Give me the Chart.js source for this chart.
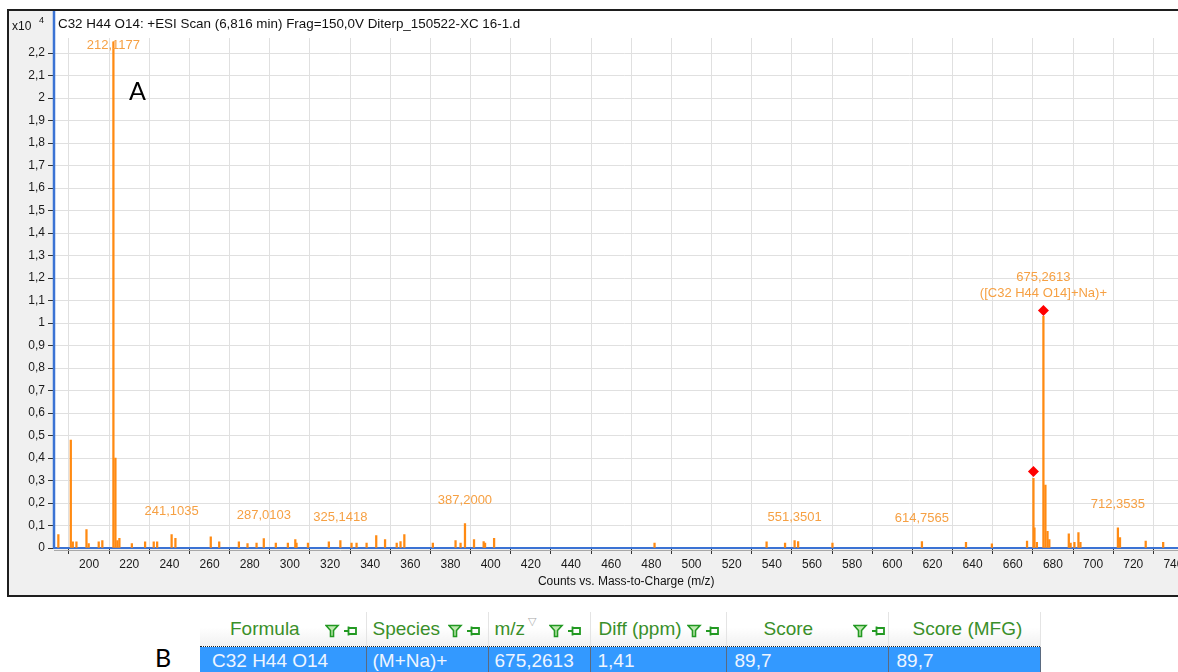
<!DOCTYPE html>
<html>
<head>
<meta charset="utf-8">
<title>C32 H44 O14 +ESI Scan</title>
<script src="https://cdn.jsdelivr.net/npm/chart.js@4.4.1/dist/chart.umd.min.js"></script>
<style>
  html, body { margin: 0; padding: 0; background: #fff; overflow: hidden; width: 1178px; height: 672px; }
  #spectrum { position: absolute; left: 0; top: 0; }
  .tag { position: absolute; font-family: Lato, "Open Sans", sans-serif; font-size: 25px; color: #000; line-height: 1; }
  #hits { position: absolute; left: 200px; top: 612px; border-collapse: collapse; table-layout: fixed;
          font-family: "Liberation Sans", Arial, sans-serif; font-size: 19px; }
  #hits th, #hits td { padding: 0; white-space: nowrap; overflow: hidden; text-align: left; position: relative; }
  #hits th { height: 34px; font-weight: normal; color: #3a8f2a;
             background: linear-gradient(#ffffff 0%, #ffffff 45%, #f1f1f1 100%);
             border-right: 1px solid #e4e4e4; }
  #hits td { height: 30px; background: #3399ff; color: #eef5ff; border-top: 1px dotted #222;
             border-right: 1px solid #5a6a80; }
  #hits .ico { position: absolute; top: 9px; }
  #hits .sort { position: absolute; top: 3px; color: #aaa; font-size: 11px; }
</style>
</head>
<body>
<canvas id="spectrum" width="1200" height="600"></canvas>
<div class="tag" style="left:129px; top:78px;">A</div>
<div class="tag" style="left:155px; top:645px;">B</div>
<table id="hits"><thead><tr id="hitsHead"></tr></thead><tbody><tr id="hitsRow"></tr></tbody></table>
<script>
// Spectrum peaks: m/z and abundance (counts x10^4)
const mz = [
  184.7, 190.9, 191.9, 193.7, 198.7, 199.8, 204.8, 206.6, 212.1177, 213.12,
  214.1, 215.1, 221.3, 227.9, 232.2, 233.9, 241.1035, 243.0, 260.6, 264.8,
  274.6, 278.9, 283.4, 287.0103, 293.0, 299.0, 302.7, 303.3, 309.0, 319.4,
  325.1418, 330.7, 333.2, 338.2, 343.0, 347.4, 353.2, 355.1, 357.0, 371.2,
  382.5, 385.0, 387.2000, 391.7, 396.5, 397.2, 401.7, 481.6, 537.4, 546.6,
  551.3501, 553.1, 570.2, 614.7565, 636.7, 649.6, 667.1, 670.3, 670.8, 672.0,
  675.2613, 676.26, 677.3, 678.2, 687.9, 688.8, 690.7, 692.7, 693.7, 712.3535,
  713.4, 726.2, 734.9
];
const counts = [
  0.06, 0.48, 0.027, 0.027, 0.082, 0.02, 0.027, 0.033, 2.25, 0.40,
  0.033, 0.043, 0.02, 0.027, 0.027, 0.027, 0.06, 0.043, 0.05, 0.027,
  0.027, 0.02, 0.022, 0.042, 0.022, 0.022, 0.037, 0.022, 0.022, 0.027,
  0.033, 0.022, 0.022, 0.022, 0.055, 0.037, 0.022, 0.028, 0.06, 0.022,
  0.033, 0.022, 0.109, 0.037, 0.028, 0.022, 0.043, 0.022, 0.027, 0.022,
  0.033, 0.028, 0.022, 0.028, 0.025, 0.018, 0.031, 0.31, 0.09, 0.025,
  1.03, 0.28, 0.074, 0.037, 0.063, 0.022, 0.025, 0.068, 0.025, 0.09,
  0.046, 0.031, 0.025
];

// predicted isotope markers
const isoMz = [670.3059, 675.2613];
const isoCounts = [0.34, 1.056];

// annotated peaks
const labelMz = [212.1177, 241.1035, 287.0103, 325.1418, 387.2000, 551.3501, 614.7565, 675.2613, 712.3535];
const labelNotes = ['', '', '', '', '', '', '', '([C32 H44 O14]+Na)+', ''];

const xTicks = [200, 220, 240, 260, 280, 300, 320, 340, 360, 380, 400, 420, 440, 460, 480, 500,
                520, 540, 560, 580, 600, 620, 640, 660, 680, 700, 720, 740];
const yTicks = [0, 0.1, 0.2, 0.3, 0.4, 0.5, 0.6, 0.7, 0.8, 0.9, 1, 1.1, 1.2, 1.3, 1.4, 1.5, 1.6,
                1.7, 1.8, 1.9, 2, 2.1, 2.2];

const scanTitle = 'C32 H44 O14: +ESI Scan (6,816 min) Frag=150,0V Diterp_150522-XC 16-1.d';
const xTitle = 'Counts vs. Mass-to-Charge (m/z)';

// results table
const hitColumns = ['Formula', 'Species', 'm/z', 'Diff (ppm)', 'Score', 'Score (MFG)'];
const hitValues = ['C32 H44 O14', '(M+Na)+', '675,2613', '1,41', '89,7', '89,7'];

const comma = s => String(s).replace('.', ',');
const FONT = '"Liberation Sans", Arial, sans-serif';

const framePlugin = {
  id: 'frame',
  beforeDraw(chart) {
    const { ctx, chartArea: a } = chart;
    ctx.save();
    ctx.fillStyle = '#f0f0f0';
    ctx.fillRect(8, 10, 1192, 586);
    ctx.fillStyle = '#fff';
    ctx.fillRect(a.left, 11, 1200 - a.left, a.bottom - 11);
    ctx.restore();
  },
  afterDraw(chart) {
    const { ctx, chartArea: a } = chart;
    ctx.save();
    // window border
    ctx.strokeStyle = '#1e1e1e';
    ctx.lineWidth = 2;
    ctx.beginPath();
    ctx.moveTo(1200, 10); ctx.lineTo(8, 10); ctx.lineTo(8, 596); ctx.lineTo(1200, 596);
    ctx.stroke();
    // y axis runs up through the title row
    ctx.strokeStyle = '#3b73d4';
    ctx.lineWidth = 2.5;
    ctx.beginPath();
    ctx.moveTo(a.left, 11); ctx.lineTo(a.left, a.bottom);
    ctx.stroke();
    ctx.strokeStyle = '#a8a8a8';
    ctx.lineWidth = 1;
    ctx.beginPath();
    ctx.moveTo(a.left, a.bottom + 2.5); ctx.lineTo(1200, a.bottom + 2.5);
    ctx.stroke();

    ctx.fillStyle = '#111';
    ctx.textBaseline = 'middle';
    ctx.font = '13.4px ' + FONT;
    ctx.fillText(scanTitle, a.left + 4, 24);
    ctx.font = '12px ' + FONT;
    ctx.fillText('x10', 12, 27);
    ctx.font = '9px ' + FONT;
    ctx.fillText('4', 39, 21);
    ctx.font = '12px ' + FONT;
    ctx.textAlign = 'center';
    ctx.fillText(xTitle, (a.left + a.right) / 2 + 2, 582);
    ctx.restore();
  },
  afterDatasetsDraw(chart) {
    const { ctx, chartArea: a, scales } = chart;
    ctx.save();
    ctx.fillStyle = '#f6a043';
    ctx.font = '13px ' + FONT;
    ctx.textAlign = 'center';
    ctx.textBaseline = 'middle';
    labelMz.forEach((m, i) => {
      const x = scales.x.getPixelForValue(m);
      const top = scales.y.getPixelForValue(counts[mz.indexOf(m)]);
      let y = Math.max(top - 23, a.top + 7);
      if (labelNotes[i]) {
        ctx.fillText(labelNotes[i], x, y);
        y -= 16;
      }
      ctx.fillText(comma(m.toFixed(4)), x, y);
    });
    ctx.restore();
  }
};

new Chart(document.getElementById('spectrum'), {
  type: 'bar',
  data: {
    datasets: [
      {
        type: 'line',
        data: isoMz.map((m, i) => ({ x: m, y: isoCounts[i] })),
        showLine: false,
        pointStyle: 'rectRot',
        pointRadius: 5.5,
        pointBackgroundColor: '#ff0000',
        pointBorderWidth: 0
      },
      {
        type: 'bar',
        data: mz.map((m, i) => ({ x: m, y: counts[i] })),
        backgroundColor: '#ff8a12',
        barThickness: 1.6
      }
    ]
  },
  plugins: [framePlugin],
  options: {
    responsive: false,
    animation: false,
    layout: { padding: { left: 9, top: 38, right: 0, bottom: 0 } },
    plugins: { legend: { display: false }, tooltip: { enabled: false } },
    scales: {
      x: {
        type: 'linear',
        min: 182.53,
        max: 750.5,
        offset: false,
        afterBuildTicks: axis => { axis.ticks = xTicks.map(v => ({ value: v })); },
        afterFit: scale => { scale.height = 52; },
        grid: { color: '#e0e0e0', tickColor: '#333', tickLength: 6 },
        border: { color: '#3b73d4', width: 2 },
        ticks: { color: '#1a1a1a', font: { family: FONT, size: 12 }, padding: 3, maxRotation: 0, autoSkip: false }
      },
      y: {
        min: 0,
        max: 2.2667,
        afterBuildTicks: axis => { axis.ticks = yTicks.map(v => ({ value: v })); },
        afterFit: scale => { scale.width = 45; },
        grid: { color: '#e0e0e0', tickColor: '#333', tickLength: 6 },
        border: { color: '#3b73d4', width: 2 },
        ticks: {
          color: '#1a1a1a', font: { family: FONT, size: 12 }, padding: 3, autoSkip: false,
          callback: v => comma(Math.round(v * 10) / 10)
        }
      }
    }
  }
});

// table header with filter / pin glyphs
const funnel = '<svg width="36" height="14" viewBox="0 0 36 14">' +
  '<path d="M1 1.5 H13 L8.5 6.5 V12.5 H5.5 V6.5 Z" fill="#bfe8b0" stroke="#229922" stroke-width="1.6"/>' +
  '<path d="M19 7 H23 M23.5 2.5 V11.5 M24 4 H31 V10 H24" fill="none" stroke="#229922" stroke-width="1.8"/></svg>';
const colWidths = [166, 122, 102, 136, 162, 152];
const headPad = [30, 6, 6, 8, 37, 24];
const iconLeft = [125, 81, 60, 96, 126, null];
const cellPad = [12, 6, 6, 7, 8, 8];
const head = document.getElementById('hitsHead');
const row = document.getElementById('hitsRow');
hitColumns.forEach((c, i) => {
  const th = document.createElement('th');
  th.style.width = colWidths[i] + 'px';
  th.style.paddingLeft = headPad[i] + 'px';
  th.style.boxSizing = 'border-box';
  th.innerHTML = c + (c === 'm/z' ? '<span class="sort" style="left:39px">&#9661;</span>' : '') +
    (iconLeft[i] !== null ? '<span class="ico" style="left:' + iconLeft[i] + 'px">' + funnel + '</span>' : '');
  head.appendChild(th);
  const td = document.createElement('td');
  td.style.width = colWidths[i] + 'px';
  td.style.paddingLeft = cellPad[i] + 'px';
  td.style.boxSizing = 'border-box';
  td.textContent = hitValues[i];
  row.appendChild(td);
});
</script>
</body>
</html>
